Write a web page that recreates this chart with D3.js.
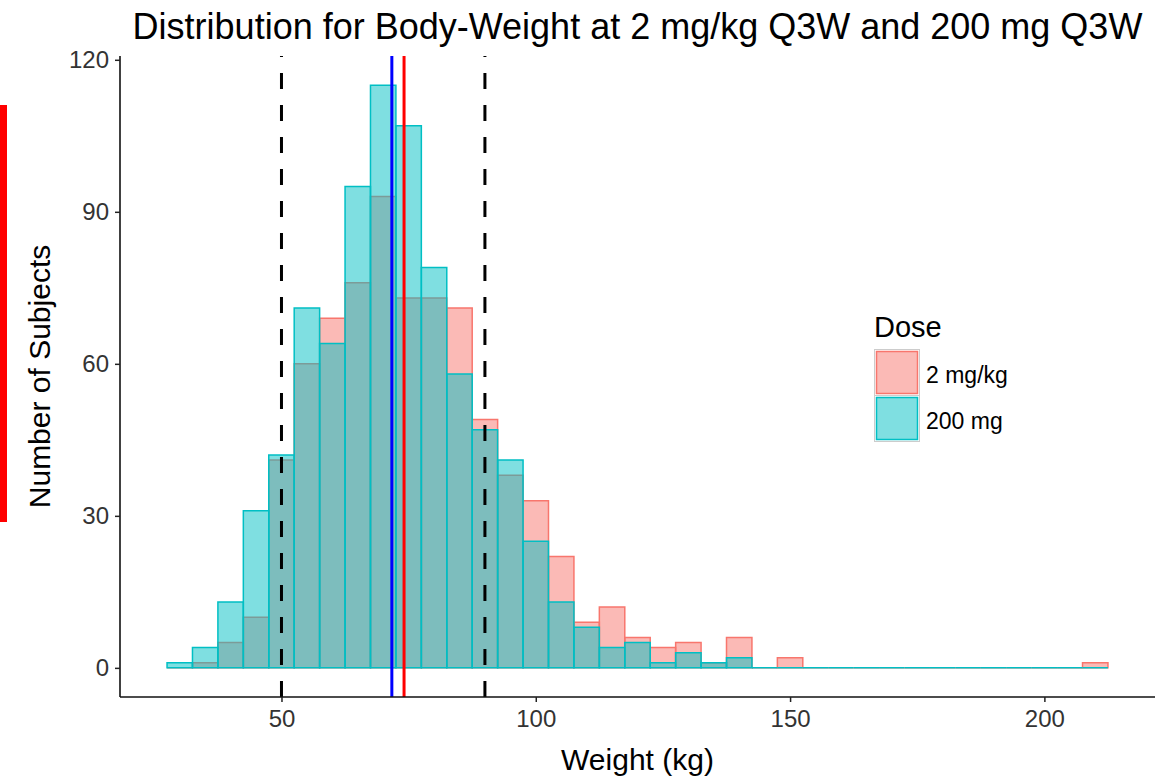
<!DOCTYPE html>
<html>
<head>
<meta charset="utf-8">
<script src="https://cdn.jsdelivr.net/npm/d3@7"></script>
<style>
  html, body { margin: 0; padding: 0; background: #fff; }
  svg { display: block; font-family: "Liberation Sans", Arial, sans-serif; }
</style>
</head>
<body>
<svg id="chart" width="1166" height="781"></svg>
<script>
// ---- data ----
const binCenters = [30, 35, 40, 45, 50, 55, 60, 65, 70, 75, 80, 85, 90, 95, 100, 105, 110, 115, 120, 125,
                    130, 135, 140, 145, 150, 155, 160, 165, 170, 175, 180, 185, 190, 195, 200, 205, 210];
const binWidth = 5;
const countsDose2mgkg = [0, 1, 5, 10, 41, 60, 69, 76, 93, 73, 73, 71, 49, 38, 33, 22, 9, 12, 6, 4,
                         5, 1, 6, 0, 2, 0, 0, 0, 0, 0, 0, 0, 0, 0, 0, 0, 1];
const countsDose200mg = [1, 4, 13, 31, 42, 71, 64, 95, 115, 107, 79, 58, 47, 41, 25, 13, 8, 4, 5, 1,
                         3, 1, 2, 0, 0, 0, 0, 0, 0, 0, 0, 0, 0, 0, 0, 0, 0];
const doseLabels = ["2 mg/kg", "200 mg"];
const refLines = [50, 90];          // dashed reference limits
const mean200mg = 71.7;             // blue line
const mean2mgkg = 74.1;             // red line
const xTicks = [50, 100, 150, 200];
const yTicks = [0, 30, 60, 90, 120];
const titleText = "Distribution for Body-Weight at 2 mg/kg Q3W and 200 mg Q3W";
const xTitle = "Weight (kg)";
const yTitle = "Number of Subjects";
const legendTitle = "Dose";

// ---- layout ----
const svg = d3.select("#chart");
const panel = { left: 120, right: 1155, top: 56, bottom: 697 };
const colors = { fill: ["rgba(248,118,109,0.5)", "rgba(0,191,196,0.5)"], stroke: ["#F8766D", "#00BFC4"] };

const xMin = binCenters[0] - binWidth / 2, xMax = binCenters[binCenters.length - 1] + binWidth / 2;
const xPad = (xMax - xMin) * 0.05;
const x = d3.scaleLinear().domain([xMin - xPad, xMax + xPad]).range([panel.left, panel.right]);
const yMaxData = d3.max([...countsDose2mgkg, ...countsDose200mg]);
const yPad = yMaxData * 0.05;
const y = d3.scaleLinear().domain([-yPad, yMaxData + yPad]).range([panel.bottom, panel.top]);

// decorative red bar at left edge
svg.append("rect").attr("x", 0).attr("y", 105).attr("width", 7).attr("height", 417).attr("fill", "#FF0000");

// ---- bars ----
const series = [countsDose2mgkg, countsDose200mg];
series.forEach((counts, si) => {
  svg.append("g").selectAll("path").data(binCenters).join("path")
    .attr("d", (c, i) => {
      const x0 = x(c - binWidth / 2), x1 = x(c + binWidth / 2);
      const y0 = y(0), y1 = y(counts[i]);
      return `M${x0},${y0}V${y1}H${x1}V${y0}Z`;
    })
    .attr("fill", colors.fill[si])
    .attr("stroke", colors.stroke[si])
    .attr("stroke-width", 1.5);
});

// ---- reference lines ----
refLines.forEach(v => {
  svg.append("line")
    .attr("x1", x(v)).attr("x2", x(v))
    .attr("y1", panel.bottom).attr("y2", panel.top)
    .attr("stroke", "#000").attr("stroke-width", 3)
    .attr("stroke-dasharray", "16,16");
});
[[mean200mg, "#0000FF"], [mean2mgkg, "#FF0000"]].forEach(([v, c]) => {
  svg.append("line")
    .attr("x1", x(v)).attr("x2", x(v))
    .attr("y1", panel.bottom).attr("y2", panel.top)
    .attr("stroke", c).attr("stroke-width", 3);
});

// ---- axes ----
const xAxis = svg.append("g").attr("transform", `translate(0,${panel.bottom})`)
  .call(d3.axisBottom(x).tickValues(xTicks).tickSize(5).tickPadding(8).tickSizeOuter(0));
const yAxis = svg.append("g").attr("transform", `translate(${panel.left},0)`)
  .call(d3.axisLeft(y).tickValues(yTicks).tickSize(5).tickPadding(6).tickSizeOuter(0));
[xAxis, yAxis].forEach(a => {
  a.select(".domain").attr("stroke", "#111").attr("stroke-width", 1.6);
  a.selectAll(".tick line").attr("stroke", "#222").attr("stroke-width", 1.5);
  a.selectAll(".tick text").attr("fill", "#333333").style("font-size", "24px")
    .style("font-family", "'Liberation Sans', Arial, sans-serif");
});
// extend the domain lines to full panel
xAxis.select(".domain").attr("d", `M${panel.left},0H${panel.right}`);
yAxis.select(".domain").attr("d", `M0,${panel.bottom}V${panel.top}`);

// ---- titles ----
svg.append("text").attr("x", (panel.left + panel.right) / 2).attr("y", 39)
  .attr("text-anchor", "middle").style("font-size", "36px").attr("fill", "#000").text(titleText);
svg.append("text").attr("x", (panel.left + panel.right) / 2).attr("y", 770)
  .attr("text-anchor", "middle").style("font-size", "30px").attr("fill", "#000").text(xTitle);
svg.append("text").attr("transform", `translate(50,${(panel.top + panel.bottom) / 2}) rotate(-90)`)
  .attr("text-anchor", "middle").style("font-size", "30px").attr("fill", "#000").text(yTitle);

// ---- legend ----
const lg = svg.append("g");
lg.append("text").attr("x", 874).attr("y", 337).style("font-size", "29px").attr("fill", "#000").text(legendTitle);
doseLabels.forEach((lab, i) => {
  const ky = 349 + i * 46;
  lg.append("rect").attr("x", 874.5).attr("y", ky + 0.5).attr("width", 45).attr("height", 46)
    .attr("fill", "none").attr("stroke", "#CCCCCC").attr("stroke-width", 1);
  lg.append("rect").attr("x", 876.5).attr("y", ky + 2.5).attr("width", 41).attr("height", 42)
    .attr("fill", colors.fill[i]).attr("stroke", colors.stroke[i]).attr("stroke-width", 1.5);
  lg.append("text").attr("x", 926).attr("y", ky + 34).style("font-size", "23px").attr("fill", "#000").text(lab);
});
</script>
</body>
</html>
